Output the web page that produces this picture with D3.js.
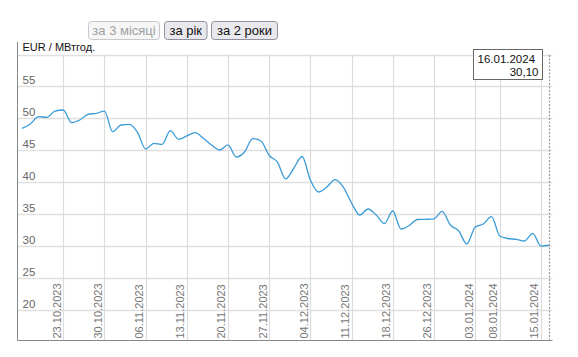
<!DOCTYPE html>
<html>
<head>
<meta charset="utf-8">
<script src="https://cdn.jsdelivr.net/npm/d3@7"></script>
<style>
  html, body { margin: 0; padding: 0; background: #fff; }
  svg { display: block; font-family: "Liberation Sans", Arial, sans-serif; }
</style>
</head>
<body>
<svg id="chart" width="578" height="357"></svg>
<script>
// ---- data ----
const dates = [
  "16.10.2023","17.10.2023","18.10.2023","19.10.2023","20.10.2023",
  "23.10.2023","24.10.2023","25.10.2023","26.10.2023","27.10.2023",
  "30.10.2023","31.10.2023","01.11.2023","02.11.2023","03.11.2023",
  "06.11.2023","07.11.2023","08.11.2023","09.11.2023","10.11.2023",
  "13.11.2023","14.11.2023","15.11.2023","16.11.2023","17.11.2023",
  "20.11.2023","21.11.2023","22.11.2023","23.11.2023","24.11.2023",
  "27.11.2023","28.11.2023","29.11.2023","30.11.2023","01.12.2023",
  "04.12.2023","05.12.2023","06.12.2023","07.12.2023","08.12.2023",
  "11.12.2023","12.12.2023","13.12.2023","14.12.2023","15.12.2023",
  "18.12.2023","19.12.2023","20.12.2023","21.12.2023","22.12.2023",
  "26.12.2023","27.12.2023","28.12.2023","29.12.2023","02.01.2024",
  "03.01.2024","04.01.2024","05.01.2024","08.01.2024","09.01.2024",
  "10.01.2024","11.01.2024","12.01.2024","15.01.2024","16.01.2024"
];
const prices = [
  48.43, 49.11, 50.25, 50.16, 51.14,
  51.30, 49.31, 49.73, 50.63, 50.78,
  51.14, 47.90, 48.95, 49.06, 47.85,
  45.19, 46.08, 45.92, 48.06, 46.71,
  47.23, 47.74, 46.87, 45.82, 45.03,
  45.82, 43.93, 44.72, 46.83, 46.44,
  44.17, 43.15, 40.49, 42.21, 44.01,
  40.33, 38.45, 39.23, 40.38, 39.23,
  36.72, 34.84, 35.78, 34.84, 33.51,
  35.47, 32.65, 33.20, 34.14, 34.17,
  34.25, 35.40, 33.28, 32.38, 30.30,
  32.92, 33.43, 34.58, 31.55, 31.16,
  31.03, 30.77, 31.97, 29.98, 30.10
];
const xTickLabels = ["23.10.2023","30.10.2023","06.11.2023","13.11.2023","20.11.2023",
  "27.11.2023","04.12.2023","11.12.2023","18.12.2023","26.12.2023",
  "03.01.2024","08.01.2024","15.01.2024"];
const yGridValues = [20, 25, 30, 35, 40, 45, 50, 55, 60];
const yTickLabels = [20, 25, 30, 35, 40, 45, 50, 55];
const buttons = [
  { label: "за 3 місяці", disabled: true },
  { label: "за рік", disabled: false },
  { label: "за 2 роки", disabled: false }
];
const unitLabel = "EUR / МВтгод.";
const tipDate = "16.01.2024";
const tipValue = "30,10";

// ---- layout ----
const svg = d3.select("#chart");
const plotLeft = 17.5, plotRight = 552.5, axisTop = 42, plotBottom = 340.5;

const x = d3.scaleLinear().domain([0, dates.length - 1]).range([22.1, 549.2]);
const y = d3.scaleLinear().domain([20, 60]).range([309.7, 54.5]);

// buttons
const btnGeom = [{x: 88.5, w: 71}, {x: 164.5, w: 42.5}, {x: 211.5, w: 66}];
const bg = svg.append("g").selectAll("g").data(buttons).join("g")
  .attr("transform", (d, i) => `translate(${btnGeom[i].x},21.5)`);
bg.append("rect")
  .attr("width", (d, i) => btnGeom[i].w).attr("height", 18)
  .attr("rx", 3).attr("ry", 3)
  .attr("fill", d => d.disabled ? "#f6f6f7" : "#e9e9ed")
  .attr("stroke", d => d.disabled ? "#c8c8cc" : "#8f8f9d");
bg.append("text")
  .attr("x", (d, i) => btnGeom[i].w / 2).attr("y", 13.5)
  .attr("text-anchor", "middle")
  .attr("font-size", "13px")
  .attr("fill", d => d.disabled ? "#a0a0a0" : "#111")
  .text(d => d.label);

// horizontal gridlines
svg.append("g").selectAll("line").data(yGridValues).join("line")
  .attr("x1", plotLeft).attr("x2", plotRight)
  .attr("y1", d => Math.round(y(d)) + 0.5).attr("y2", d => Math.round(y(d)) + 0.5)
  .attr("stroke", "#e0e0e0").attr("stroke-width", 1.3);

// vertical gridlines
const tickIdx = xTickLabels.map(l => dates.indexOf(l));
svg.append("g").selectAll("line").data(tickIdx).join("line")
  .attr("x1", d => Math.round(x(d)) + 0.5).attr("x2", d => Math.round(x(d)) + 0.5)
  .attr("y1", y(60)).attr("y2", plotBottom)
  .attr("stroke", "#dcdcdc").attr("stroke-width", 1.2);

// y labels
svg.append("g").selectAll("text").data(yTickLabels).join("text")
  .attr("x", 22.5).attr("y", d => y(d) - 2)
  .attr("font-size", "11.5px").attr("fill", "#666")
  .text(d => d);

// x labels (rotated)
svg.append("g").selectAll("text").data(tickIdx).join("text")
  .attr("transform", d => `translate(${x(d) - 2.5},${plotBottom - 2}) rotate(-90)`)
  .attr("font-size", "11px").attr("fill", "#777")
  .text(d => dates[d]);

// axes
svg.append("line").attr("x1", plotLeft).attr("x2", plotLeft)
  .attr("y1", axisTop).attr("y2", plotBottom).attr("stroke", "#888");
svg.append("line").attr("x1", plotLeft).attr("x2", plotRight)
  .attr("y1", plotBottom).attr("y2", plotBottom).attr("stroke", "#888");

// unit label
svg.append("text").attr("x", 22.5).attr("y", 51)
  .attr("font-size", "11px").attr("fill", "#111").text(unitLabel);

// line
const line = d3.line().x((d, i) => x(i)).y(d => y(d)).curve(d3.curveMonotoneX);
svg.append("path").datum(prices)
  .attr("d", line).attr("fill", "none")
  .attr("stroke", "#3b9bd6").attr("stroke-width", 1.3);

// crosshair
const last = dates.length - 1;
svg.append("line")
  .attr("x1", Math.round(x(last)) + 0.5).attr("x2", Math.round(x(last)) + 0.5)
  .attr("y1", 55).attr("y2", plotBottom)
  .attr("stroke", "#999").attr("stroke-width", 1.2).attr("stroke-dasharray", "2,1.5");

// tooltip
const tip = svg.append("g").attr("transform", "translate(473.5,49.5)");
tip.append("rect").attr("width", 69).attr("height", 30)
  .attr("fill", "#fff").attr("stroke", "#666");
tip.append("text").attr("x", 4).attr("y", 13)
  .attr("font-size", "11.5px").attr("fill", "#111").text(tipDate);
tip.append("text").attr("x", 65).attr("y", 26).attr("text-anchor", "end")
  .attr("font-size", "11.5px").attr("fill", "#111").text(tipValue);
</script>
</body>
</html>
